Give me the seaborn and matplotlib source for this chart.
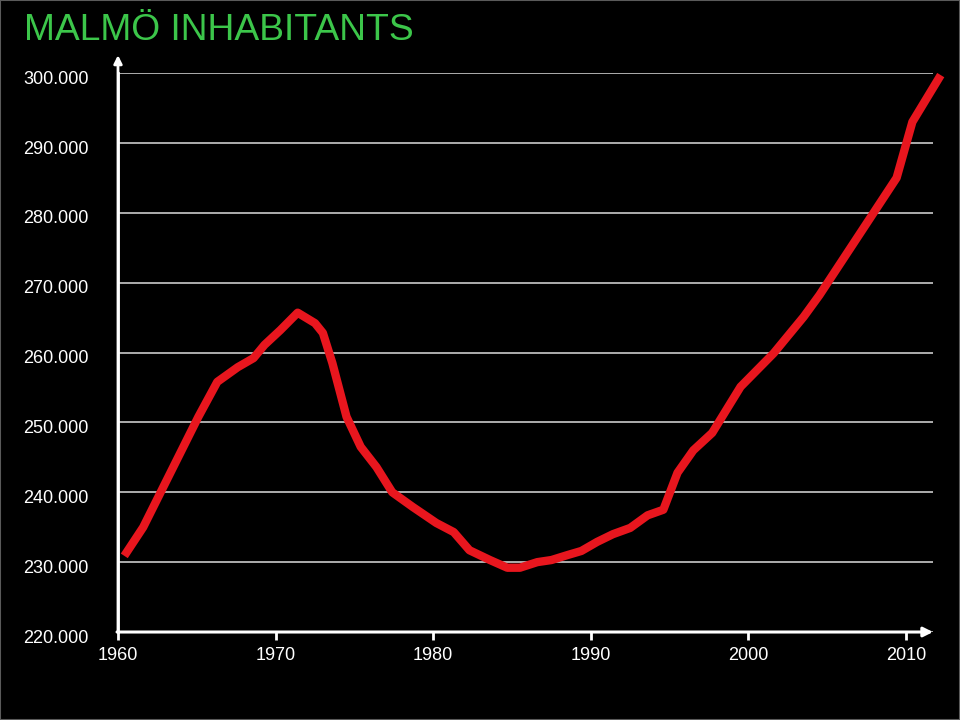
import matplotlib
matplotlib.use("Agg")
import matplotlib.pyplot as plt
import matplotlib.transforms as mtransforms
import seaborn as sns
import pandas as pd
from matplotlib.patches import Rectangle

# ---- data ----
years = [1960.4, 1961.6, 1965.1, 1966.3, 1967.6, 1968.6, 1969.3, 1970.3, 1971.4,
         1972.5, 1973.0, 1973.6, 1974.5, 1975.4, 1976.4, 1977.4, 1978.7, 1980.2,
         1981.3, 1982.3, 1983.6, 1984.7, 1985.5, 1986.6, 1987.5, 1988.5, 1989.4,
         1990.4, 1991.4, 1992.5, 1993.6, 1994.6, 1995.5, 1996.5, 1997.7, 1999.5,
         2001.6, 2003.5, 2004.5, 2009.4, 2010.4, 2012.2]
inhabitants = [230900, 235000, 250800, 255800, 257900, 259200, 261100, 263200, 265700,
               264200, 262800, 258500, 250800, 246500, 243600, 240000, 237900, 235600,
               234300, 231700, 230300, 229200, 229200, 230000, 230300, 231000, 231600,
               232900, 234000, 234900, 236700, 237500, 242800, 246000, 248500, 255100,
               259900, 265100, 268200, 285000, 293000, 299700]
x_ticks = [1960, 1970, 1980, 1990, 2000, 2010]
x_tick_labels = ["1960", "1970", "1980", "1990", "2000", "2010"]
y_ticks = [220000, 230000, 240000, 250000, 260000, 270000, 280000, 290000, 300000]
y_tick_labels = ["220.000", "230.000", "240.000", "250.000", "260.000",
                 "270.000", "280.000", "290.000", "300.000"]
title = "MALMÖ INHABITANTS"

df = pd.DataFrame({"year": years, "inhabitants": inhabitants})

sns.set_style("dark", {"axes.facecolor": "black", "figure.facecolor": "black"})
plt.rcParams['font.family'] = ['Liberation Sans', 'DejaVu Sans']

fig = plt.figure(figsize=(9.6, 7.2), dpi=100, facecolor="black")
ax = fig.add_axes([0.1229, 0.1222, 0.8490, 0.7764])
ax.set_facecolor("black")

sns.lineplot(data=df, x="year", y="inhabitants", ax=ax, color="#e8161e",
             linewidth=6, sort=False, clip_on=False,
             solid_capstyle="butt", solid_joinstyle="round", zorder=5)

ax.set_xlim(1960, 2011.71)
ax.set_ylim(220000, 300000)
ax.set_xticks(x_ticks)
ax.set_xticklabels(x_tick_labels)
ax.set_yticks(y_ticks)
ax.set_yticklabels(y_tick_labels)
ax.set_xlabel("")
ax.set_ylabel("")

ax.grid(False)
ax.yaxis.grid(True, color="#dcdcdc", linewidth=1.1)
ax.xaxis.grid(False)

for s in ["top", "right"]:
    ax.spines[s].set_visible(False)
ax.spines["left"].set_color("white")
ax.spines["left"].set_linewidth(2)
ax.spines["bottom"].set_visible(False)

ax.tick_params(axis="x", colors="white", direction="out", length=6, width=2,
               labelsize=13, pad=5, bottom=True)
ax.tick_params(axis="y", colors="white", length=0, labelsize=13, pad=21, left=False)

# y labels sit slightly below their gridlines in the reference
offset = mtransforms.ScaledTranslation(0, -3 / 72, fig.dpi_scale_trans)
for lbl in ax.get_yticklabels():
    lbl.set_transform(lbl.get_transform() + offset)

# axis arrows
ax.annotate("", xy=(1.0, 0), xytext=(-0.0012, 0), xycoords="axes fraction",
            arrowprops=dict(arrowstyle="-|>", color="white", lw=2.2,
                            mutation_scale=14, shrinkA=0, shrinkB=0), zorder=6)
ax.annotate("", xy=(0, 1.032), xytext=(0, 0), xycoords="axes fraction",
            arrowprops=dict(arrowstyle="-|>", color="white", lw=2,
                            mutation_scale=12, shrinkA=0, shrinkB=0), zorder=6)

fig.text(0.025, 0.944, title, color="#3cc64a", fontsize=26.8,
         ha="left", va="baseline")

fig.add_artist(Rectangle((0, 0), 1, 1, transform=fig.transFigure, fill=False,
                         edgecolor="#5a5a5a", linewidth=1.5))

fig.savefig("out.png", dpi=100, facecolor="black")
